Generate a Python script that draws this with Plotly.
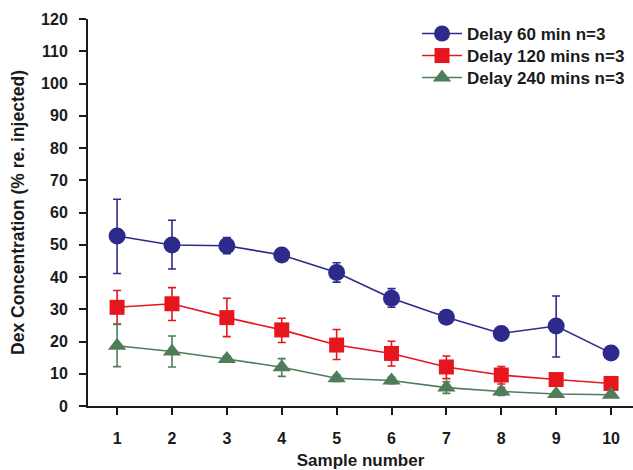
import plotly.graph_objects as go

# Sample numbers along the x axis
samples = [1, 2, 3, 4, 5, 6, 7, 8, 9, 10]

# Delay 60 min (mean, upper / lower error)
delay60_mean = [52.7, 49.9, 49.7, 46.8, 41.4, 33.4, 27.5, 22.5, 24.8, 16.4]
delay60_up = [11.4, 7.7, 2.5, 1.2, 3.0, 3.0, 1.5, 1.8, 9.3, 1.0]
delay60_dn = [11.6, 7.4, 2.5, 1.2, 3.0, 2.8, 1.5, 1.8, 9.6, 1.0]

# Delay 120 mins
delay120_mean = [30.6, 31.7, 27.4, 23.6, 18.9, 16.3, 12.1, 9.6, 8.2, 7.0]
delay120_up = [5.2, 5.0, 6.0, 3.6, 4.8, 3.8, 3.4, 2.6, 1.0, 0.5]
delay120_dn = [5.2, 5.2, 5.9, 3.9, 4.5, 3.9, 3.6, 2.8, 1.0, 0.5]

# Delay 240 mins
delay240_mean = [18.7, 16.9, 14.6, 12.0, 8.6, 7.9, 5.7, 4.5, 3.7, 3.5]
delay240_up = [6.6, 4.8, 1.0, 2.7, 1.0, 1.0, 1.8, 1.2, 0.5, 0.5]
delay240_dn = [6.5, 4.8, 1.0, 2.8, 1.0, 1.0, 1.8, 1.2, 0.5, 0.5]

series_names = ["Delay 60 min n=3", "Delay 120 mins n=3", "Delay 240 mins n=3"]
y_ticks = [0, 10, 20, 30, 40, 50, 60, 70, 80, 90, 100, 110, 120]

BLUE = "#2d2a8c"
RED = "#e5161d"
GREEN = "#4f7d59"
INK = "#1a1a1a"
FONT = "Liberation Sans, Arial, sans-serif"

# one legend per series so the rows can sit at a tighter pitch
series = [
    (series_names[0], delay60_mean, delay60_up, delay60_dn, BLUE, "circle", 17, "legend"),
    (series_names[1], delay120_mean, delay120_up, delay120_dn, RED, "square", 15, "legend2"),
    (series_names[2], delay240_mean, delay240_up, delay240_dn, GREEN, "triangle-up", 16, "legend3"),
]

fig = go.Figure()
for name, mean, up, dn, color, symbol, size, leg in series:
    fig.add_trace(go.Scatter(
        x=samples, y=mean, name=name, mode="lines+markers",
        line=dict(color=color, width=1.6),
        marker=dict(color=color, symbol=symbol, size=size, line=dict(width=0)),
        error_y=dict(type="data", symmetric=False, array=up, arrayminus=dn,
                     color=color, thickness=1.6, width=4),
        cliponaxis=False,
        legend=leg,
    ))


def legend_box(ypos):
    return dict(
        x=0.6037, y=ypos, xanchor="left", yanchor="top",
        bgcolor="rgba(0,0,0,0)", borderwidth=0,
        font=dict(family=FONT, size=17, color=INK, weight="bold"),
        itemwidth=40, itemsizing="trace",
    )


fig.update_layout(
    width=633, height=470,
    margin=dict(l=88, r=0, t=19, b=64),
    paper_bgcolor="white", plot_bgcolor="white",
    font=dict(family=FONT, size=16, color=INK),
    showlegend=True,
    legend=legend_box(1.0078),
    legend2=legend_box(0.9509),
    legend3=legend_box(0.8940),
    xaxis=dict(
        range=[0.47, 10.4], tickmode="array", tickvals=samples,
        showgrid=False, zeroline=False,
        showline=True, linecolor=INK, linewidth=2,
        ticks="outside", ticklen=7, tickwidth=2, tickcolor=INK,
        ticklabelstandoff=10,
        tickfont=dict(family=FONT, size=16, weight="bold"),
        title=dict(text="<b>Sample number</b>", font=dict(family=FONT, size=17), standoff=11),
    ),
    yaxis=dict(
        range=[0, 120], tickmode="array", tickvals=y_ticks,
        showgrid=False, zeroline=False,
        showline=True, linecolor=INK, linewidth=2,
        ticks="outside", ticklen=7, tickwidth=2, tickcolor=INK,
        ticklabelstandoff=8,
        tickfont=dict(family=FONT, size=16, weight="bold"),
        title=dict(text="<b>Dex Concentration (% re. injected)</b>",
                   font=dict(family=FONT, size=17.5), standoff=12),
    ),
)

fig.write_html("out.html")
